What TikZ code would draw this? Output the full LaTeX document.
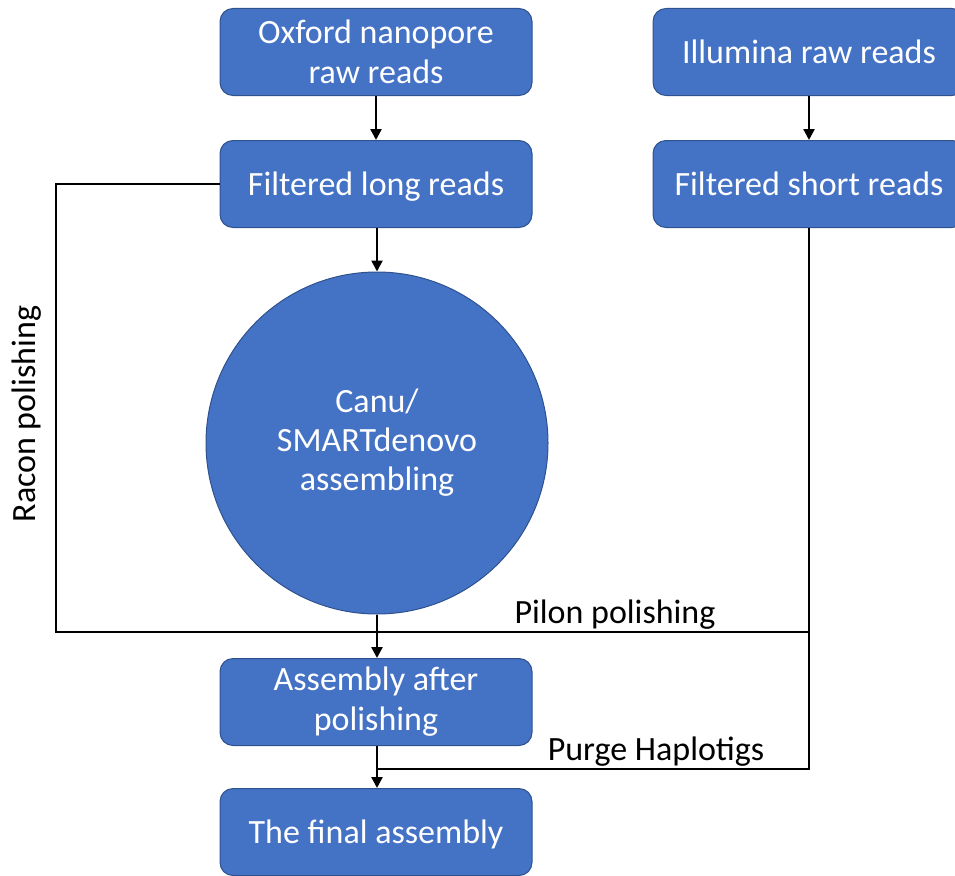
\documentclass[tikz,border=0pt]{standalone}
\usepackage{fontspec}
\setmainfont{Carlito}
\usetikzlibrary{arrows.meta}
\definecolor{boxblue}{HTML}{4472C4}
\definecolor{boxedge}{HTML}{2F528F}
\begin{document}
\begin{tikzpicture}[x=1pt,y=-1pt,
  box/.style={draw=boxedge, line width=1pt, fill=boxblue, rounded corners=13pt,
    minimum width=312pt, minimum height=87pt, text=white, align=center,
    font=\fontsize{34}{40}\selectfont, inner sep=0pt},
  onebox/.style={box, text depth=0pt, yshift=0pt},
  bigcircle/.style={circle, draw=boxedge, line width=1pt, fill=boxblue, minimum size=342pt,
    text=white, align=center, font=\fontsize{34}{39}\selectfont, inner sep=0pt},
  conn/.style={line width=2.4pt, black},
  arr/.style={conn, -{Triangle[length=11pt,width=11pt]}},
  lbl/.style={font=\fontsize{34}{40}\selectfont, inner sep=0pt}]
\useasboundingbox (0,0) rectangle (955,875);
\node[box] (ont) at (376,52) {Oxford nanopore\\raw reads};
\node[onebox] (ill) at (809,52) {Illumina raw reads};
\node[onebox] (fl) at (376,184) {Filtered long reads};
\node[onebox] (fs) at (809,184) {Filtered short reads};
\node[bigcircle] (asm) at (377,443) {Canu/\\SMARTdenovo\\assembling};
\node[box] (pol) at (376,702) {Assembly after\\polishing};
\node[onebox] (fin) at (376,832) {The final assembly};
\coordinate (j1) at (377,632);
\coordinate (j2) at (377,769);
\coordinate (rl) at (56,632);
\coordinate (pr) at (809,632);
\draw[arr] (ont) -- (fl);
\draw[arr] (ill) -- (fs);
\draw[arr] (fl.south -| asm.north) -- (asm.north);
\draw[arr] (asm.south) -- (pol.north -| asm.south);
\draw[arr] (pol.south -| j2) -- (fin.north -| j2);
\draw[conn] (fl.west) -| (rl) -- (j1);
\draw[conn] (fs.south) -- (pr) -- (j1);
\draw[conn] (pr) |- (j2);
\node[lbl, rotate=90] (racon) at (27,414) {Racon polishing};
\node[lbl, anchor=base] (pilon) at (615,623) {Pilon polishing};
\node[lbl, anchor=base] (purge) at (656,760) {Purge Haplotigs};
\end{tikzpicture}
\end{document}
